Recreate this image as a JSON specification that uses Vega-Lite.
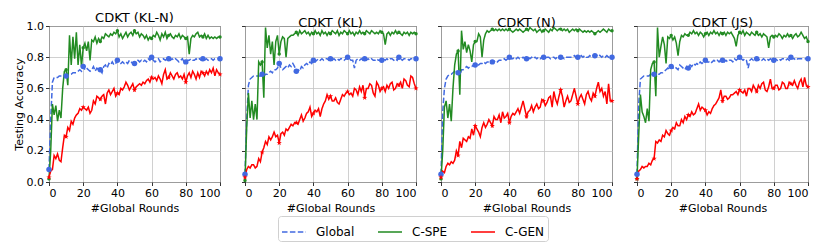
{
"$schema": "https://vega.github.io/schema/vega-lite/v6.json",
"padding": {"left": 12, "top": 11, "right": 0, "bottom": 0},
"config": {
 "font": "DejaVu Sans",
 "view": {"stroke": "black", "strokeWidth": 1},
 "axis": {"grid": true, "gridColor": "#c4c4c4", "gridWidth": 0.8, "domain": false, "tickColor": "black", "tickSize": 3.5, "tickWidth": 0.8, "labelFontSize": 11, "labelColor": "black", "titleFontSize": 11, "titleFontWeight": "normal", "titleColor": "black", "labelPadding": 2},
 "title": {"fontSize": 13, "fontWeight": 400, "offset": -5, "color": "black"}
},
"spacing": 25,
"bounds": "flush",
"resolve": {"scale": {"color": "shared", "strokeDash": "shared"}},
"datasets": {
"p1": [
{"x":0,"g":0.08,"s":0.02,"r":0.03},{"x":1,"g":0.40,"s":0.20,"r":0.07},{"x":2,"g":0.64,"s":0.50,"r":0.08},{"x":3,"g":0.67,"s":0.43,"r":0.17},{"x":4,"g":0.67,"s":0.49,"r":0.15},{"x":5,"g":0.67,"s":0.39,"r":0.18},{"x":6,"g":0.68,"s":0.46,"r":0.14},{"x":7,"g":0.68,"s":0.41,"r":0.13},{"x":8,"g":0.68,"s":0.60,"r":0.22},{"x":9,"g":0.68,"s":0.71,"r":0.30},
{"x":10,"g":0.68,"s":0.72,"r":0.29},{"x":11,"g":0.69,"s":0.62,"r":0.35},{"x":12,"g":0.69,"s":0.94,"r":0.33},{"x":13,"g":0.69,"s":0.75,"r":0.39},{"x":14,"g":0.70,"s":0.93,"r":0.37},{"x":15,"g":0.70,"s":0.79,"r":0.41},{"x":16,"g":0.70,"s":0.96,"r":0.43},{"x":17,"g":0.71,"s":0.75,"r":0.44},{"x":18,"g":0.72,"s":0.88,"r":0.47},{"x":19,"g":0.71,"s":0.74,"r":0.46},
{"x":20,"g":0.74,"s":0.86,"r":0.48},{"x":21,"g":0.72,"s":0.89,"r":0.47},{"x":22,"g":0.73,"s":0.84,"r":0.46},{"x":23,"g":0.72,"s":0.90,"r":0.48},{"x":24,"g":0.71,"s":0.78,"r":0.44},{"x":25,"g":0.72,"s":0.91,"r":0.46},{"x":26,"g":0.74,"s":0.90,"r":0.52},{"x":27,"g":0.71,"s":0.93,"r":0.50},{"x":28,"g":0.73,"s":0.89,"r":0.55},{"x":29,"g":0.72,"s":0.92,"r":0.54},
{"x":30,"g":0.72,"s":0.90,"r":0.53},{"x":31,"g":0.70,"s":0.93,"r":0.55},{"x":32,"g":0.74,"s":0.92,"r":0.56},{"x":33,"g":0.75,"s":0.95,"r":0.50},{"x":34,"g":0.73,"s":0.94,"r":0.57},{"x":35,"g":0.76,"s":0.93,"r":0.59},{"x":36,"g":0.75,"s":0.95,"r":0.56},{"x":37,"g":0.77,"s":0.94,"r":0.58},{"x":38,"g":0.75,"s":0.96,"r":0.60},{"x":39,"g":0.76,"s":0.95,"r":0.55},
{"x":40,"g":0.78,"s":0.97,"r":0.57},{"x":41,"g":0.77,"s":0.93,"r":0.56},{"x":42,"g":0.76,"s":0.95,"r":0.60},{"x":43,"g":0.77,"s":0.92,"r":0.59},{"x":44,"g":0.76,"s":0.94,"r":0.61},{"x":45,"g":0.77,"s":0.96,"r":0.64},{"x":46,"g":0.76,"s":0.93,"r":0.62},{"x":47,"g":0.78,"s":0.95,"r":0.59},{"x":48,"g":0.77,"s":0.96,"r":0.61},{"x":49,"g":0.76,"s":0.94,"r":0.63},
{"x":50,"g":0.76,"s":0.97,"r":0.59},{"x":51,"g":0.77,"s":0.95,"r":0.61},{"x":52,"g":0.78,"s":0.96,"r":0.62},{"x":53,"g":0.77,"s":0.93,"r":0.63},{"x":54,"g":0.78,"s":0.95,"r":0.62},{"x":55,"g":0.77,"s":0.94,"r":0.64},{"x":56,"g":0.78,"s":0.92,"r":0.63},{"x":57,"g":0.77,"s":0.94,"r":0.65},{"x":58,"g":0.79,"s":0.91,"r":0.66},{"x":59,"g":0.78,"s":0.93,"r":0.64},
{"x":60,"g":0.80,"s":0.92,"r":0.67},{"x":61,"g":0.78,"s":0.94,"r":0.66},{"x":62,"g":0.77,"s":0.93,"r":0.67},{"x":63,"g":0.78,"s":0.96,"r":0.65},{"x":64,"g":0.79,"s":0.94,"r":0.68},{"x":65,"g":0.77,"s":0.91,"r":0.66},{"x":66,"g":0.78,"s":0.95,"r":0.63},{"x":67,"g":0.79,"s":0.93,"r":0.69},{"x":68,"g":0.78,"s":0.96,"r":0.72},{"x":69,"g":0.79,"s":0.92,"r":0.66},
{"x":70,"g":0.79,"s":0.94,"r":0.67},{"x":71,"g":0.78,"s":0.95,"r":0.70},{"x":72,"g":0.79,"s":0.93,"r":0.68},{"x":73,"g":0.78,"s":0.92,"r":0.66},{"x":74,"g":0.79,"s":0.94,"r":0.69},{"x":75,"g":0.78,"s":0.93,"r":0.70},{"x":76,"g":0.77,"s":0.95,"r":0.67},{"x":77,"g":0.78,"s":0.92,"r":0.68},{"x":78,"g":0.79,"s":0.94,"r":0.66},{"x":79,"g":0.77,"s":0.93,"r":0.69},
{"x":80,"g":0.77,"s":0.92,"r":0.64},{"x":81,"g":0.78,"s":0.93,"r":0.68},{"x":82,"g":0.78,"s":0.82,"r":0.70},{"x":83,"g":0.79,"s":0.92,"r":0.67},{"x":84,"g":0.78,"s":0.94,"r":0.71},{"x":85,"g":0.78,"s":0.93,"r":0.69},{"x":86,"g":0.79,"s":0.95,"r":0.66},{"x":87,"g":0.78,"s":0.96,"r":0.70},{"x":88,"g":0.79,"s":0.93,"r":0.67},{"x":89,"g":0.78,"s":0.94,"r":0.71},
{"x":90,"g":0.79,"s":0.93,"r":0.70},{"x":91,"g":0.78,"s":0.95,"r":0.68},{"x":92,"g":0.79,"s":0.92,"r":0.71},{"x":93,"g":0.78,"s":0.94,"r":0.69},{"x":94,"g":0.79,"s":0.92,"r":0.72},{"x":95,"g":0.79,"s":0.93,"r":0.70},{"x":96,"g":0.78,"s":0.92,"r":0.73},{"x":97,"g":0.79,"s":0.93,"r":0.68},{"x":98,"g":0.79,"s":0.92,"r":0.72},{"x":99,"g":0.79,"s":0.93,"r":0.70},
{"x":100,"g":0.79,"s":0.93,"r":0.69}
],
"p2": [
{"x":0,"g":0.05,"s":0.01,"r":0.03},{"x":1,"g":0.40,"s":0.35,"r":0.08},{"x":2,"g":0.62,"s":0.57,"r":0.10},{"x":3,"g":0.66,"s":0.41,"r":0.09},{"x":4,"g":0.67,"s":0.52,"r":0.11},{"x":5,"g":0.68,"s":0.40,"r":0.11},{"x":6,"g":0.68,"s":0.50,"r":0.09},{"x":7,"g":0.68,"s":0.40,"r":0.10},{"x":8,"g":0.68,"s":0.77,"r":0.15},{"x":9,"g":0.68,"s":0.75,"r":0.13},
{"x":10,"g":0.69,"s":0.77,"r":0.19},{"x":11,"g":0.68,"s":0.54,"r":0.22},{"x":12,"g":0.69,"s":0.99,"r":0.26},{"x":13,"g":0.69,"s":0.86,"r":0.24},{"x":14,"g":0.70,"s":0.94,"r":0.29},{"x":15,"g":0.71,"s":0.82,"r":0.27},{"x":16,"g":0.70,"s":0.90,"r":0.29},{"x":17,"g":0.72,"s":0.75,"r":0.32},{"x":18,"g":0.72,"s":0.90,"r":0.29},{"x":19,"g":0.73,"s":0.94,"r":0.30},
{"x":20,"g":0.76,"s":0.82,"r":0.25},{"x":21,"g":0.73,"s":0.90,"r":0.31},{"x":22,"g":0.72,"s":0.93,"r":0.32},{"x":23,"g":0.73,"s":0.92,"r":0.30},{"x":24,"g":0.74,"s":0.80,"r":0.34},{"x":25,"g":0.73,"s":0.92,"r":0.33},{"x":26,"g":0.75,"s":0.93,"r":0.35},{"x":27,"g":0.74,"s":0.94,"r":0.37},{"x":28,"g":0.76,"s":0.94,"r":0.36},{"x":29,"g":0.74,"s":0.95,"r":0.38},
{"x":30,"g":0.71,"s":0.96,"r":0.38},{"x":31,"g":0.72,"s":0.94,"r":0.37},{"x":32,"g":0.71,"s":0.97,"r":0.40},{"x":33,"g":0.74,"s":0.95,"r":0.43},{"x":34,"g":0.73,"s":0.96,"r":0.39},{"x":35,"g":0.75,"s":0.97,"r":0.41},{"x":36,"g":0.76,"s":0.95,"r":0.44},{"x":37,"g":0.75,"s":0.96,"r":0.45},{"x":38,"g":0.77,"s":0.94,"r":0.48},{"x":39,"g":0.76,"s":0.96,"r":0.42},
{"x":40,"g":0.78,"s":0.95,"r":0.44},{"x":41,"g":0.77,"s":0.97,"r":0.46},{"x":42,"g":0.78,"s":0.95,"r":0.45},{"x":43,"g":0.79,"s":0.96,"r":0.47},{"x":44,"g":0.78,"s":0.94,"r":0.42},{"x":45,"g":0.79,"s":0.97,"r":0.47},{"x":46,"g":0.78,"s":0.95,"r":0.50},{"x":47,"g":0.79,"s":0.96,"r":0.52},{"x":48,"g":0.79,"s":0.94,"r":0.56},{"x":49,"g":0.78,"s":0.96,"r":0.53},
{"x":50,"g":0.79,"s":0.95,"r":0.55},{"x":51,"g":0.78,"s":0.97,"r":0.52},{"x":52,"g":0.79,"s":0.96,"r":0.52},{"x":53,"g":0.78,"s":0.95,"r":0.54},{"x":54,"g":0.79,"s":0.97,"r":0.51},{"x":55,"g":0.78,"s":0.94,"r":0.50},{"x":56,"g":0.79,"s":0.96,"r":0.53},{"x":57,"g":0.79,"s":0.95,"r":0.56},{"x":58,"g":0.78,"s":0.97,"r":0.55},{"x":59,"g":0.79,"s":0.96,"r":0.57},
{"x":60,"g":0.80,"s":0.95,"r":0.58},{"x":61,"g":0.79,"s":0.97,"r":0.56},{"x":62,"g":0.78,"s":0.95,"r":0.57},{"x":63,"g":0.78,"s":0.96,"r":0.55},{"x":64,"g":0.73,"s":0.94,"r":0.60},{"x":65,"g":0.78,"s":0.96,"r":0.59},{"x":66,"g":0.79,"s":0.95,"r":0.56},{"x":67,"g":0.78,"s":0.97,"r":0.61},{"x":68,"g":0.79,"s":0.95,"r":0.58},{"x":69,"g":0.78,"s":0.96,"r":0.62},
{"x":70,"g":0.79,"s":0.95,"r":0.54},{"x":71,"g":0.78,"s":0.97,"r":0.60},{"x":72,"g":0.79,"s":0.96,"r":0.60},{"x":73,"g":0.78,"s":0.95,"r":0.63},{"x":74,"g":0.79,"s":0.97,"r":0.62},{"x":75,"g":0.78,"s":0.96,"r":0.57},{"x":76,"g":0.78,"s":0.95,"r":0.55},{"x":77,"g":0.79,"s":0.96,"r":0.64},{"x":78,"g":0.78,"s":0.95,"r":0.62},{"x":79,"g":0.78,"s":0.97,"r":0.58},
{"x":80,"g":0.78,"s":0.96,"r":0.60},{"x":81,"g":0.79,"s":0.95,"r":0.61},{"x":82,"g":0.78,"s":0.88,"r":0.58},{"x":83,"g":0.79,"s":0.95,"r":0.62},{"x":84,"g":0.78,"s":0.96,"r":0.60},{"x":85,"g":0.79,"s":0.94,"r":0.63},{"x":86,"g":0.79,"s":0.96,"r":0.64},{"x":87,"g":0.78,"s":0.95,"r":0.59},{"x":88,"g":0.79,"s":0.97,"r":0.60},{"x":89,"g":0.78,"s":0.95,"r":0.63},
{"x":90,"g":0.80,"s":0.96,"r":0.62},{"x":91,"g":0.79,"s":0.95,"r":0.64},{"x":92,"g":0.78,"s":0.94,"r":0.60},{"x":93,"g":0.79,"s":0.96,"r":0.66},{"x":94,"g":0.79,"s":0.95,"r":0.65},{"x":95,"g":0.79,"s":0.96,"r":0.62},{"x":96,"g":0.78,"s":0.94,"r":0.61},{"x":97,"g":0.79,"s":0.96,"r":0.68},{"x":98,"g":0.79,"s":0.95,"r":0.67},{"x":99,"g":0.79,"s":0.96,"r":0.63},
{"x":100,"g":0.79,"s":0.95,"r":0.60}
],
"p3": [
{"x":0,"g":0.05,"s":0.02,"r":0.03},{"x":1,"g":0.45,"s":0.20,"r":0.07},{"x":2,"g":0.60,"s":0.48,"r":0.06},{"x":3,"g":0.66,"s":0.52,"r":0.10},{"x":4,"g":0.68,"s":0.41,"r":0.12},{"x":5,"g":0.69,"s":0.50,"r":0.11},{"x":6,"g":0.69,"s":0.39,"r":0.13},{"x":7,"g":0.70,"s":0.60,"r":0.12},{"x":8,"g":0.71,"s":0.75,"r":0.14},{"x":9,"g":0.71,"s":0.82,"r":0.20},
{"x":10,"g":0.70,"s":0.84,"r":0.17},{"x":11,"g":0.68,"s":0.56,"r":0.26},{"x":12,"g":0.72,"s":0.97,"r":0.22},{"x":13,"g":0.72,"s":0.85,"r":0.28},{"x":14,"g":0.73,"s":0.90,"r":0.27},{"x":15,"g":0.74,"s":0.83,"r":0.26},{"x":16,"g":0.73,"s":0.88,"r":0.29},{"x":17,"g":0.74,"s":0.84,"r":0.28},{"x":18,"g":0.74,"s":0.77,"r":0.34},{"x":19,"g":0.75,"s":0.88,"r":0.30},
{"x":20,"g":0.75,"s":0.90,"r":0.36},{"x":21,"g":0.76,"s":0.90,"r":0.34},{"x":22,"g":0.75,"s":0.95,"r":0.32},{"x":23,"g":0.76,"s":0.93,"r":0.29},{"x":24,"g":0.76,"s":0.80,"r":0.35},{"x":25,"g":0.77,"s":0.91,"r":0.38},{"x":26,"g":0.76,"s":0.95,"r":0.35},{"x":27,"g":0.77,"s":0.97,"r":0.37},{"x":28,"g":0.77,"s":0.96,"r":0.40},{"x":29,"g":0.76,"s":0.97,"r":0.38},
{"x":30,"g":0.77,"s":0.98,"r":0.36},{"x":31,"g":0.77,"s":0.97,"r":0.42},{"x":32,"g":0.78,"s":0.98,"r":0.40},{"x":33,"g":0.77,"s":0.97,"r":0.40},{"x":34,"g":0.78,"s":0.98,"r":0.43},{"x":35,"g":0.78,"s":0.97,"r":0.38},{"x":36,"g":0.78,"s":0.98,"r":0.45},{"x":37,"g":0.79,"s":0.97,"r":0.41},{"x":38,"g":0.78,"s":0.98,"r":0.42},{"x":39,"g":0.79,"s":0.97,"r":0.44},
{"x":40,"g":0.80,"s":0.98,"r":0.38},{"x":41,"g":0.79,"s":0.97,"r":0.42},{"x":42,"g":0.79,"s":0.96,"r":0.44},{"x":43,"g":0.80,"s":0.97,"r":0.43},{"x":44,"g":0.79,"s":0.98,"r":0.45},{"x":45,"g":0.80,"s":0.97,"r":0.47},{"x":46,"g":0.79,"s":0.98,"r":0.44},{"x":47,"g":0.79,"s":0.97,"r":0.48},{"x":48,"g":0.80,"s":0.96,"r":0.52},{"x":49,"g":0.79,"s":0.97,"r":0.47},
{"x":50,"g":0.79,"s":0.98,"r":0.42},{"x":51,"g":0.80,"s":0.97,"r":0.45},{"x":52,"g":0.79,"s":0.99,"r":0.46},{"x":53,"g":0.80,"s":0.98,"r":0.49},{"x":54,"g":0.79,"s":0.97,"r":0.45},{"x":55,"g":0.80,"s":0.98,"r":0.48},{"x":56,"g":0.79,"s":0.96,"r":0.50},{"x":57,"g":0.80,"s":0.97,"r":0.47},{"x":58,"g":0.79,"s":0.98,"r":0.48},{"x":59,"g":0.80,"s":0.96,"r":0.53},
{"x":60,"g":0.80,"s":0.97,"r":0.52},{"x":61,"g":0.79,"s":0.98,"r":0.49},{"x":62,"g":0.80,"s":0.97,"r":0.51},{"x":63,"g":0.80,"s":0.96,"r":0.54},{"x":64,"g":0.79,"s":0.98,"r":0.55},{"x":65,"g":0.80,"s":0.97,"r":0.48},{"x":66,"g":0.80,"s":0.99,"r":0.58},{"x":67,"g":0.79,"s":0.98,"r":0.53},{"x":68,"g":0.80,"s":0.97,"r":0.50},{"x":69,"g":0.80,"s":0.98,"r":0.55},
{"x":70,"g":0.80,"s":0.98,"r":0.59},{"x":71,"g":0.80,"s":0.97,"r":0.55},{"x":72,"g":0.79,"s":0.98,"r":0.48},{"x":73,"g":0.80,"s":0.97,"r":0.52},{"x":74,"g":0.80,"s":0.98,"r":0.55},{"x":75,"g":0.80,"s":0.96,"r":0.51},{"x":76,"g":0.80,"s":0.97,"r":0.52},{"x":77,"g":0.80,"s":0.98,"r":0.56},{"x":78,"g":0.81,"s":0.97,"r":0.60},{"x":79,"g":0.80,"s":0.98,"r":0.55},
{"x":80,"g":0.80,"s":0.97,"r":0.50},{"x":81,"g":0.80,"s":0.98,"r":0.54},{"x":82,"g":0.81,"s":0.97,"r":0.56},{"x":83,"g":0.80,"s":0.96,"r":0.53},{"x":84,"g":0.81,"s":0.97,"r":0.50},{"x":85,"g":0.80,"s":0.96,"r":0.56},{"x":86,"g":0.80,"s":0.97,"r":0.58},{"x":87,"g":0.81,"s":0.96,"r":0.54},{"x":88,"g":0.80,"s":0.97,"r":0.52},{"x":89,"g":0.81,"s":0.96,"r":0.57},
{"x":90,"g":0.81,"s":0.95,"r":0.55},{"x":91,"g":0.81,"s":0.96,"r":0.60},{"x":92,"g":0.82,"s":0.97,"r":0.64},{"x":93,"g":0.81,"s":0.96,"r":0.58},{"x":94,"g":0.80,"s":0.97,"r":0.60},{"x":95,"g":0.81,"s":0.98,"r":0.55},{"x":96,"g":0.80,"s":0.97,"r":0.58},{"x":97,"g":0.81,"s":0.96,"r":0.50},{"x":98,"g":0.80,"s":0.98,"r":0.63},{"x":99,"g":0.81,"s":0.97,"r":0.52},
{"x":100,"g":0.80,"s":0.97,"r":0.52}
],
"p4": [
{"x":0,"g":0.05,"s":0.02,"r":0.02},{"x":1,"g":0.50,"s":0.30,"r":0.07},{"x":2,"g":0.66,"s":0.56,"r":0.08},{"x":3,"g":0.67,"s":0.45,"r":0.10},{"x":4,"g":0.68,"s":0.42,"r":0.09},{"x":5,"g":0.68,"s":0.38,"r":0.10},{"x":6,"g":0.68,"s":0.47,"r":0.10},{"x":7,"g":0.68,"s":0.39,"r":0.12},{"x":8,"g":0.69,"s":0.72,"r":0.11},{"x":9,"g":0.69,"s":0.76,"r":0.14},
{"x":10,"g":0.69,"s":0.77,"r":0.15},{"x":11,"g":0.67,"s":0.55,"r":0.26},{"x":12,"g":0.69,"s":0.99,"r":0.25},{"x":13,"g":0.69,"s":0.80,"r":0.27},{"x":14,"g":0.70,"s":0.87,"r":0.26},{"x":15,"g":0.70,"s":0.93,"r":0.30},{"x":16,"g":0.71,"s":0.88,"r":0.29},{"x":17,"g":0.72,"s":0.76,"r":0.33},{"x":18,"g":0.73,"s":0.93,"r":0.31},{"x":19,"g":0.72,"s":0.92,"r":0.30},
{"x":20,"g":0.74,"s":0.94,"r":0.33},{"x":21,"g":0.73,"s":0.91,"r":0.35},{"x":22,"g":0.74,"s":0.93,"r":0.34},{"x":23,"g":0.73,"s":0.89,"r":0.38},{"x":24,"g":0.72,"s":0.81,"r":0.36},{"x":25,"g":0.75,"s":0.90,"r":0.36},{"x":26,"g":0.74,"s":0.94,"r":0.40},{"x":27,"g":0.73,"s":0.93,"r":0.38},{"x":28,"g":0.72,"s":0.95,"r":0.42},{"x":29,"g":0.74,"s":0.94,"r":0.40},
{"x":30,"g":0.73,"s":0.94,"r":0.43},{"x":31,"g":0.75,"s":0.96,"r":0.42},{"x":32,"g":0.74,"s":0.95,"r":0.45},{"x":33,"g":0.76,"s":0.97,"r":0.43},{"x":34,"g":0.75,"s":0.95,"r":0.44},{"x":35,"g":0.76,"s":0.96,"r":0.47},{"x":36,"g":0.75,"s":0.94,"r":0.50},{"x":37,"g":0.77,"s":0.96,"r":0.46},{"x":38,"g":0.76,"s":0.95,"r":0.48},{"x":39,"g":0.77,"s":0.93,"r":0.47},
{"x":40,"g":0.78,"s":0.95,"r":0.46},{"x":41,"g":0.77,"s":0.96,"r":0.43},{"x":42,"g":0.77,"s":0.94,"r":0.45},{"x":43,"g":0.76,"s":0.96,"r":0.44},{"x":44,"g":0.77,"s":0.95,"r":0.47},{"x":45,"g":0.78,"s":0.97,"r":0.49},{"x":46,"g":0.77,"s":0.95,"r":0.50},{"x":47,"g":0.78,"s":0.96,"r":0.52},{"x":48,"g":0.77,"s":0.94,"r":0.54},{"x":49,"g":0.78,"s":0.96,"r":0.59},
{"x":50,"g":0.78,"s":0.95,"r":0.52},{"x":51,"g":0.77,"s":0.96,"r":0.55},{"x":52,"g":0.78,"s":0.94,"r":0.55},{"x":53,"g":0.77,"s":0.96,"r":0.53},{"x":54,"g":0.78,"s":0.95,"r":0.54},{"x":55,"g":0.78,"s":0.96,"r":0.56},{"x":56,"g":0.77,"s":0.94,"r":0.56},{"x":57,"g":0.79,"s":0.92,"r":0.57},{"x":58,"g":0.78,"s":0.87,"r":0.58},{"x":59,"g":0.79,"s":0.94,"r":0.56},
{"x":60,"g":0.80,"s":0.96,"r":0.59},{"x":61,"g":0.79,"s":0.95,"r":0.58},{"x":62,"g":0.78,"s":0.97,"r":0.57},{"x":63,"g":0.79,"s":0.94,"r":0.59},{"x":64,"g":0.78,"s":0.96,"r":0.55},{"x":65,"g":0.73,"s":0.95,"r":0.60},{"x":66,"g":0.78,"s":0.94,"r":0.60},{"x":67,"g":0.79,"s":0.96,"r":0.58},{"x":68,"g":0.78,"s":0.95,"r":0.62},{"x":69,"g":0.79,"s":0.94,"r":0.60},
{"x":70,"g":0.79,"s":0.96,"r":0.58},{"x":71,"g":0.78,"s":0.94,"r":0.62},{"x":72,"g":0.79,"s":0.95,"r":0.60},{"x":73,"g":0.78,"s":0.93,"r":0.63},{"x":74,"g":0.79,"s":0.95,"r":0.64},{"x":75,"g":0.78,"s":0.94,"r":0.59},{"x":76,"g":0.79,"s":0.93,"r":0.58},{"x":77,"g":0.78,"s":0.86,"r":0.61},{"x":78,"g":0.79,"s":0.93,"r":0.66},{"x":79,"g":0.78,"s":0.94,"r":0.60},
{"x":80,"g":0.78,"s":0.93,"r":0.60},{"x":81,"g":0.79,"s":0.94,"r":0.62},{"x":82,"g":0.78,"s":0.93,"r":0.62},{"x":83,"g":0.79,"s":0.95,"r":0.59},{"x":84,"g":0.78,"s":0.94,"r":0.60},{"x":85,"g":0.79,"s":0.92,"r":0.64},{"x":86,"g":0.79,"s":0.94,"r":0.63},{"x":87,"g":0.78,"s":0.93,"r":0.60},{"x":88,"g":0.79,"s":0.95,"r":0.60},{"x":89,"g":0.78,"s":0.93,"r":0.64},
{"x":90,"g":0.80,"s":0.94,"r":0.63},{"x":91,"g":0.79,"s":0.92,"r":0.62},{"x":92,"g":0.79,"s":0.94,"r":0.65},{"x":93,"g":0.78,"s":0.95,"r":0.62},{"x":94,"g":0.79,"s":0.93,"r":0.60},{"x":95,"g":0.79,"s":0.94,"r":0.64},{"x":96,"g":0.79,"s":0.96,"r":0.66},{"x":97,"g":0.79,"s":0.94,"r":0.61},{"x":98,"g":0.79,"s":0.92,"r":0.67},{"x":99,"g":0.79,"s":0.93,"r":0.62},
{"x":100,"g":0.79,"s":0.90,"r":0.61}
]
},
"hconcat": [
{
 "width": 171, "height": 156, "title": {"text": "CDKT (KL-N)", "fontWeight": 400}, "data": {"name": "p1"},
 "transform": [{"fold": ["g","s","r"], "as": ["k","v"]}],
 "encoding": {
  "x": {"field": "x", "type": "quantitative", "scale": {"domain": [0,100], "nice": false, "padding": 0}, "axis": {"values": [0,20,40,60,80,100]}, "title": "#Global Rounds"},
  "y": {"field": "v", "type": "quantitative", "scale": {"domain": [0,1], "nice": false, "padding": 0}, "axis": {"values": [0,0.2,0.4,0.6,0.8,1], "format": ".1f", "titlePadding": 2}, "title": "Testing Accuracy"}
 },
 "layer": [
  {"mark": {"type": "line", "strokeWidth": 1.5},
   "encoding": {
    "color": {"field": "k", "type": "nominal", "scale": {"domain": ["g","s","r"], "range": ["#4169E1","#228B22","#FF0000"]},
      "legend": {"orient": "none", "legendX": 229, "legendY": 190, "direction": "horizontal", "title": null, "symbolType": "stroke", "symbolSize": 576, "symbolStrokeWidth": 1.5, "labelFontSize": 12, "labelOffset": 9, "columnPadding": 20, "padding": 3, "strokeColor": "#d0d0d0", "fillColor": "white", "cornerRadius": 3, "labelColor": "black", "labelExpr": "{'g':'Global','s':'C-SPE','r':'C-GEN'}[datum.label]"}},
    "strokeDash": {"field": "k", "type": "nominal", "scale": {"domain": ["g","s","r"], "range": [[5.5,2.4],[1,0],[1,0]]},
      "legend": {"orient": "none", "legendX": 229, "legendY": 190, "direction": "horizontal", "title": null, "symbolType": "stroke", "symbolSize": 576, "symbolStrokeWidth": 1.5, "labelFontSize": 12, "labelOffset": 9, "columnPadding": 20, "padding": 3, "strokeColor": "#d0d0d0", "fillColor": "white", "cornerRadius": 3, "labelColor": "black", "labelExpr": "{'g':'Global','s':'C-SPE','r':'C-GEN'}[datum.label]"}}
   }},
  {"transform": [{"filter": "datum.k == 'g' && datum.x % 10 == 0"}], "mark": {"type": "point", "filled": true, "opacity": 1, "shape": "circle", "size": 30, "color": "#4169E1"}},
  {"transform": [{"filter": "datum.k == 's' && datum.x % 10 == 0"}], "mark": {"type": "point", "filled": true, "opacity": 1, "shape": "circle", "size": 12, "color": "#228B22"}},
  {"transform": [{"filter": "datum.k == 'r' && datum.x % 10 == 0"}], "mark": {"type": "point", "filled": true, "opacity": 1, "shape": "M0,-1L0.235,-0.324L0.951,-0.309L0.38,0.124L0.588,0.809L0,0.4L-0.588,0.809L-0.38,0.124L-0.951,-0.309L-0.235,-0.324Z", "size": 30, "color": "#FF0000"}}
 ]
},
{
 "width": 171, "height": 156, "title": {"text": "CDKT (KL)", "fontWeight": 400}, "data": {"name": "p2"},
 "transform": [{"fold": ["g","s","r"], "as": ["k","v"]}],
 "encoding": {
  "x": {"field": "x", "type": "quantitative", "scale": {"domain": [0,100], "nice": false, "padding": 0}, "axis": {"values": [0,20,40,60,80,100]}, "title": "#Global Rounds"},
  "y": {"field": "v", "type": "quantitative", "scale": {"domain": [0,1], "nice": false, "padding": 0}, "axis": {"values": [0,0.2,0.4,0.6,0.8,1], "labels": false, "title": null}}
 },
 "layer": [
  {"mark": {"type": "line", "strokeWidth": 1.5},
   "encoding": {"color": {"field": "k", "type": "nominal"}, "strokeDash": {"field": "k", "type": "nominal"}}},
  {"transform": [{"filter": "datum.k == 'g' && datum.x % 10 == 0"}], "mark": {"type": "point", "filled": true, "opacity": 1, "shape": "circle", "size": 30, "color": "#4169E1"}},
  {"transform": [{"filter": "datum.k == 's' && datum.x % 10 == 0"}], "mark": {"type": "point", "filled": true, "opacity": 1, "shape": "circle", "size": 12, "color": "#228B22"}},
  {"transform": [{"filter": "datum.k == 'r' && datum.x % 10 == 0"}], "mark": {"type": "point", "filled": true, "opacity": 1, "shape": "M0,-1L0.235,-0.324L0.951,-0.309L0.38,0.124L0.588,0.809L0,0.4L-0.588,0.809L-0.38,0.124L-0.951,-0.309L-0.235,-0.324Z", "size": 30, "color": "#FF0000"}}
 ]
},
{
 "width": 171, "height": 156, "title": {"text": "CDKT (N)", "fontWeight": 400}, "data": {"name": "p3"},
 "transform": [{"fold": ["g","s","r"], "as": ["k","v"]}],
 "encoding": {
  "x": {"field": "x", "type": "quantitative", "scale": {"domain": [0,100], "nice": false, "padding": 0}, "axis": {"values": [0,20,40,60,80,100]}, "title": "#Global Rounds"},
  "y": {"field": "v", "type": "quantitative", "scale": {"domain": [0,1], "nice": false, "padding": 0}, "axis": {"values": [0,0.2,0.4,0.6,0.8,1], "labels": false, "title": null}}
 },
 "layer": [
  {"mark": {"type": "line", "strokeWidth": 1.5},
   "encoding": {"color": {"field": "k", "type": "nominal"}, "strokeDash": {"field": "k", "type": "nominal"}}},
  {"transform": [{"filter": "datum.k == 'g' && datum.x % 10 == 0"}], "mark": {"type": "point", "filled": true, "opacity": 1, "shape": "circle", "size": 30, "color": "#4169E1"}},
  {"transform": [{"filter": "datum.k == 's' && datum.x % 10 == 0"}], "mark": {"type": "point", "filled": true, "opacity": 1, "shape": "circle", "size": 12, "color": "#228B22"}},
  {"transform": [{"filter": "datum.k == 'r' && datum.x % 10 == 0"}], "mark": {"type": "point", "filled": true, "opacity": 1, "shape": "M0,-1L0.235,-0.324L0.951,-0.309L0.38,0.124L0.588,0.809L0,0.4L-0.588,0.809L-0.38,0.124L-0.951,-0.309L-0.235,-0.324Z", "size": 30, "color": "#FF0000"}}
 ]
},
{
 "width": 171, "height": 156, "title": {"text": "CDKT (JS)", "fontWeight": 400}, "data": {"name": "p4"},
 "transform": [{"fold": ["g","s","r"], "as": ["k","v"]}],
 "encoding": {
  "x": {"field": "x", "type": "quantitative", "scale": {"domain": [0,100], "nice": false, "padding": 0}, "axis": {"values": [0,20,40,60,80,100]}, "title": "#Global Rounds"},
  "y": {"field": "v", "type": "quantitative", "scale": {"domain": [0,1], "nice": false, "padding": 0}, "axis": {"values": [0,0.2,0.4,0.6,0.8,1], "labels": false, "title": null}}
 },
 "layer": [
  {"mark": {"type": "line", "strokeWidth": 1.5},
   "encoding": {"color": {"field": "k", "type": "nominal"}, "strokeDash": {"field": "k", "type": "nominal"}}},
  {"transform": [{"filter": "datum.k == 'g' && datum.x % 10 == 0"}], "mark": {"type": "point", "filled": true, "opacity": 1, "shape": "circle", "size": 30, "color": "#4169E1"}},
  {"transform": [{"filter": "datum.k == 's' && datum.x % 10 == 0"}], "mark": {"type": "point", "filled": true, "opacity": 1, "shape": "circle", "size": 12, "color": "#228B22"}},
  {"transform": [{"filter": "datum.k == 'r' && datum.x % 10 == 0"}], "mark": {"type": "point", "filled": true, "opacity": 1, "shape": "M0,-1L0.235,-0.324L0.951,-0.309L0.38,0.124L0.588,0.809L0,0.4L-0.588,0.809L-0.38,0.124L-0.951,-0.309L-0.235,-0.324Z", "size": 30, "color": "#FF0000"}}
 ]
}
]
}
